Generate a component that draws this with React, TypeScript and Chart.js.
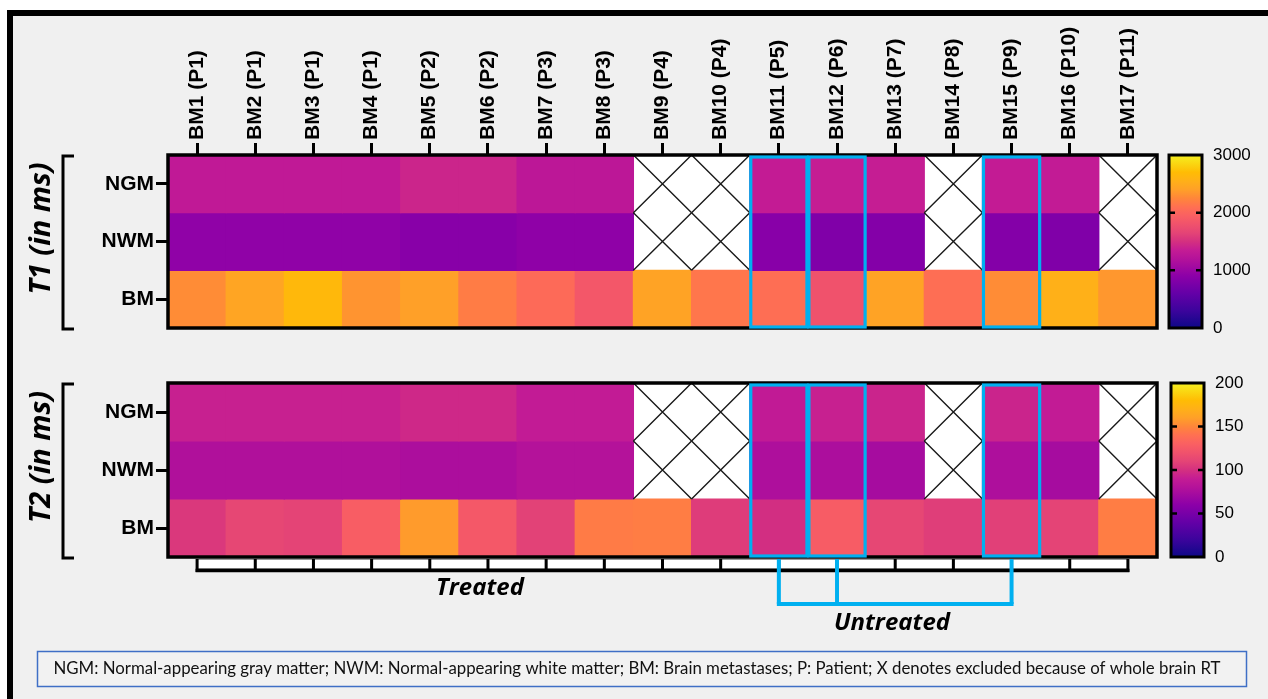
import React, { useEffect, useRef } from "react";
import { Chart, registerables } from "chart.js";

Chart.register(...registerables);

// ---------- data ----------
const COLUMNS = [
  "BM1 (P1)", "BM2 (P1)", "BM3 (P1)", "BM4 (P1)", "BM5 (P2)", "BM6 (P2)",
  "BM7 (P3)", "BM8 (P3)", "BM9 (P4)", "BM10 (P4)", "BM11 (P5)", "BM12 (P6)",
  "BM13 (P7)", "BM14 (P8)", "BM15 (P9)", "BM16 (P10)", "BM17 (P11)",
];
const ROWS = ["NGM", "NWM", "BM"];

const T1_NGM = [1310, 1310, 1310, 1310, 1420, 1420, 1275, 1275, null, null, 1340, 1360, 1360, null, 1340, 1330, null];
const T1_NWM = [930, 930, 930, 930, 870, 870, 920, 920, null, null, 870, 810, 840, null, 840, 810, null];
const T1_BM = [2285, 2445, 2650, 2330, 2400, 2180, 2045, 1850, 2430, 2140, 2080, 1800, 2430, 2080, 2285, 2550, 2350];

const T2_NGM = [92, 92, 92, 92, 96, 96, 89, 89, null, null, 88, 92, 94, null, 94, 89, null];
const T2_NWM = [78, 78, 78, 78, 76, 76, 80, 80, null, null, 77, 76, 73, null, 77, 73, null];
const T2_BM = [104, 112, 110, 128, 158, 124, 109, 145, 146, 106, 99, 127, 112, 107, 108, 110, 146];

const T1_TICKS = [0, 1000, 2000, 3000];
const T2_TICKS = [0, 50, 100, 150, 200];

const UNTREATED = ["BM11 (P5)", "BM12 (P6)", "BM15 (P9)"];

const CAPTION =
  "NGM: Normal-appearing gray matter; NWM: Normal-appearing white matter; BM: Brain metastases; P: Patient; X denotes excluded because of whole brain RT";

// ---------- style ----------
const W = 1268;
const H = 699;
const SANS = '"Liberation Sans", Arial, sans-serif';
const HUMAN = 'Lato, "Open Sans", "Liberation Sans", sans-serif';
const WIDE = '"Open Sans", Lato, "Liberation Sans", sans-serif';
const BLUE = "#00b0f0";

const CMAP: [number, number[]][] = [
  [0.0, [13, 8, 135]],
  [0.1, [60, 4, 156]],
  [0.2, [100, 0, 167]],
  [0.3, [140, 0, 168]],
  [0.4, [180, 18, 154]],
  [0.45, [196, 28, 148]],
  [0.5, [212, 48, 128]],
  [0.55, [228, 68, 118]],
  [0.6, [240, 82, 108]],
  [0.65, [250, 96, 98]],
  [0.7, [255, 112, 82]],
  [0.75, [255, 134, 58]],
  [0.8, [255, 160, 40]],
  [0.85, [255, 176, 24]],
  [0.9, [255, 188, 4]],
  [1.0, [245, 240, 32]],
];

function cmap(t: number): string {
  const x = Math.max(0, Math.min(1, t));
  for (let i = 1; i < CMAP.length; i++) {
    const [t1, c1] = CMAP[i];
    const [t0, c0] = CMAP[i - 1];
    if (x <= t1) {
      const f = (x - t0) / (t1 - t0);
      const c = c0.map((v, k) => Math.round(v + (c1[k] - v) * f));
      return `rgb(${c[0]},${c[1]},${c[2]})`;
    }
  }
  const c = CMAP[CMAP.length - 1][1];
  return `rgb(${c[0]},${c[1]},${c[2]})`;
}

interface Panel {
  rows: (number | null)[][];
  max: number;
  ticks: number[];
  top: number;
  bottom: number;
  showX: boolean;
  title: string;
  cbX0: number;
  cbX1: number;
  cbPad: number;
  background: boolean;
  below: boolean;
}

const LEFT = 168;
const RIGHT = 1157;

function drawBackground(ctx: CanvasRenderingContext2D) {
  ctx.save();
  ctx.fillStyle = "#ffffff";
  ctx.fillRect(0, 0, W, H);
  ctx.fillStyle = "#f0f0f0";
  ctx.fillRect(13, 16, W - 13, H - 16);
  ctx.fillStyle = "#000";
  ctx.fillRect(7, 10, 6, H - 10);
  ctx.fillRect(7, 10, W - 7, 6);

  // caption box
  ctx.fillStyle = "#f2f2f2";
  ctx.fillRect(37, 651, 1209, 35);
  ctx.strokeStyle = "#3f6fc6";
  ctx.lineWidth = 1.5;
  ctx.strokeRect(37.5, 651.5, 1209, 35);
  ctx.fillStyle = "#111";
  ctx.font = `17px ${HUMAN}`;
  const tw = ctx.measureText(CAPTION).width;
  ctx.translate(637, 669);
  ctx.scale(1167 / tw, 1);
  ctx.textAlign = "center";
  ctx.textBaseline = "middle";
  ctx.fillText(CAPTION, 0, 0);
  ctx.restore();
}

function makeChart(canvas: HTMLCanvasElement, p: Panel): Chart {
  const datasets = p.rows.map((vals, r) => {
    const base = 2 - r;
    return {
      label: ROWS[r],
      data: vals.map((v) => (v == null ? null : [base, base + 1])),
      backgroundColor: vals.map((v) => (v == null ? "rgba(0,0,0,0)" : cmap(v / p.max))),
      borderWidth: 0,
      barPercentage: 1,
      categoryPercentage: 1,
      grouped: false,
      inflateAmount: 0.6,
    };
  });

  const plugin = {
    id: "panelDecor",
    beforeDraw(chart: any) {
      if (p.background) drawBackground(chart.ctx);
    },
    beforeDatasetsDraw(chart: any) {
      const { ctx, chartArea: a } = chart;
      ctx.save();
      ctx.fillStyle = "#ffffff";
      ctx.fillRect(a.left, a.top, a.right - a.left, a.bottom - a.top);
      ctx.restore();
    },
    afterDraw(chart: any) {
      const { ctx, chartArea: a } = chart;
      const xs = chart.scales.x;
      const ys = chart.scales.y;
      const cb = chart.scales.cb;
      const cw = (a.right - a.left) / COLUMNS.length;
      ctx.save();

      // excluded cells: X marks
      ctx.strokeStyle = "#1a1a1a";
      ctx.lineWidth = 1.4;
      p.rows.forEach((vals, r) => {
        const base = 2 - r;
        vals.forEach((v, i) => {
          if (v != null) return;
          const cx = xs.getPixelForValue(i);
          const x0 = cx - cw / 2;
          const x1 = cx + cw / 2;
          const y0 = ys.getPixelForValue(base + 1);
          const y1 = ys.getPixelForValue(base);
          ctx.beginPath();
          ctx.moveTo(x0, y0);
          ctx.lineTo(x1, y1);
          ctx.moveTo(x1, y0);
          ctx.lineTo(x0, y1);
          ctx.stroke();
        });
      });

      // heatmap frame
      ctx.strokeStyle = "#000";
      ctx.lineWidth = 3.5;
      ctx.strokeRect(a.left, a.top, a.right - a.left, a.bottom - a.top);

      // untreated highlights
      ctx.strokeStyle = BLUE;
      ctx.lineWidth = 3.2;
      UNTREATED.forEach((lab) => {
        const i = COLUMNS.indexOf(lab);
        const cx = xs.getPixelForValue(i);
        ctx.strokeRect(cx - cw / 2 + 1, a.top + 2, cw - 2, a.bottom - a.top - 3);
      });

      // colour bar
      const grad = ctx.createLinearGradient(0, cb.bottom, 0, cb.top);
      CMAP.forEach(([t, c]) => grad.addColorStop(t, `rgb(${c[0]},${c[1]},${c[2]})`));
      ctx.fillStyle = grad;
      ctx.fillRect(p.cbX0, cb.top, p.cbX1 - p.cbX0, cb.bottom - cb.top);
      ctx.strokeStyle = "#000";
      ctx.lineWidth = 3;
      ctx.strokeRect(p.cbX0, cb.top, p.cbX1 - p.cbX0, cb.bottom - cb.top);
      ctx.lineWidth = 2.5;
      p.ticks.slice(1, -1).forEach((v) => {
        const y = cb.getPixelForValue(v);
        ctx.beginPath();
        ctx.moveTo(p.cbX0, y);
        ctx.lineTo(p.cbX0 + 6, y);
        ctx.moveTo(p.cbX1 - 6, y);
        ctx.lineTo(p.cbX1, y);
        ctx.stroke();
      });

      // left bracket and title
      ctx.lineWidth = 3;
      ctx.beginPath();
      ctx.moveTo(74, a.top + 1);
      ctx.lineTo(63, a.top + 1);
      ctx.lineTo(63, a.bottom + 1);
      ctx.lineTo(74, a.bottom + 1);
      ctx.stroke();
      ctx.save();
      ctx.translate(42, (a.top + a.bottom) / 2 - 13);
      ctx.rotate(-Math.PI / 2);
      ctx.fillStyle = "#000";
      ctx.font = `italic bold 29px ${WIDE}`;
      ctx.textAlign = "center";
      ctx.textBaseline = "middle";
      ctx.fillText(p.title, 0, 0);
      ctx.restore();

      if (p.below) {
        const centers = COLUMNS.map((_, i) => xs.getPixelForValue(i));
        const yT = a.bottom + 2;
        const yB = a.bottom + 15;
        // comb
        ctx.fillStyle = "#ffffff";
        ctx.strokeStyle = "#9a9a9a";
        ctx.lineWidth = 1;
        for (let i = 0; i < centers.length - 1; i++) {
          ctx.fillRect(centers[i], yT, centers[i + 1] - centers[i], yB - yT - 3);
          ctx.strokeRect(centers[i] + 0.5, yT + 0.5, centers[i + 1] - centers[i] - 1, yB - yT - 4);
        }
        ctx.strokeStyle = "#000";
        ctx.lineWidth = 3;
        centers.forEach((c) => {
          ctx.beginPath();
          ctx.moveTo(c, yT);
          ctx.lineTo(c, yB);
          ctx.stroke();
        });
        ctx.lineWidth = 3.5;
        ctx.beginPath();
        ctx.moveTo(centers[0] - 1.5, yB - 1.5);
        ctx.lineTo(centers[centers.length - 1] + 1.5, yB - 1.5);
        ctx.stroke();

        // untreated bracket
        const ux = UNTREATED.map((lab) => xs.getPixelForValue(COLUMNS.indexOf(lab)));
        const yL = 604;
        ctx.strokeStyle = BLUE;
        ctx.lineWidth = 4;
        ux.forEach((x) => {
          ctx.beginPath();
          ctx.moveTo(x, yT);
          ctx.lineTo(x, yL);
          ctx.stroke();
        });
        ctx.beginPath();
        ctx.moveTo(ux[0] - 2, yL);
        ctx.lineTo(ux[ux.length - 1] + 2, yL);
        ctx.stroke();

        ctx.fillStyle = "#000";
        ctx.font = `italic bold 24px ${WIDE}`;
        ctx.textAlign = "center";
        ctx.textBaseline = "middle";
        ctx.fillText("Treated", 480, 588);
        ctx.fillText("Untreated", 892, 623);
      }
      ctx.restore();
    },
  };

  const tickGrid = {
    display: true,
    drawOnChartArea: false,
    drawTicks: true,
    tickLength: 12,
    tickWidth: 3,
    tickColor: "#000",
    offset: false,
  };

  return new Chart(canvas, {
    type: "bar",
    data: { labels: COLUMNS, datasets: datasets as any },
    plugins: [plugin as any],
    options: {
      responsive: false,
      animation: false,
      events: [],
      layout: { padding: { top: p.showX ? 0 : p.top, bottom: H - p.bottom, left: 0, right: 0 } },
      plugins: { legend: { display: false }, tooltip: { enabled: false } },
      scales: {
        x: {
          type: "category",
          position: "top",
          display: p.showX,
          offset: true,
          grid: tickGrid,
          border: { display: false },
          ticks: {
            autoSkip: false,
            minRotation: 90,
            maxRotation: 90,
            padding: 3,
            labelOffset: 25,
            color: "#000",
            font: { family: SANS, size: 21, weight: "bold" },
          },
          afterFit: (s: any) => {
            if (p.showX) s.height = p.top;
          },
        },
        y: {
          type: "linear",
          position: "left",
          min: 0,
          max: 3,
          afterBuildTicks: (s: any) => {
            s.ticks = [0.5, 1.5, 2.5].map((value) => ({ value }));
          },
          grid: tickGrid,
          border: { display: false },
          ticks: {
            padding: 2,
            color: "#000",
            font: { family: SANS, size: 21, weight: "bold" },
            callback: (v: any) => ROWS[2 - Math.floor(Number(v))],
          },
          afterFit: (s: any) => {
            s.width = LEFT;
          },
        },
        cb: {
          type: "linear",
          position: "right",
          min: 0,
          max: p.max,
          afterBuildTicks: (s: any) => {
            s.ticks = p.ticks.map((value) => ({ value }));
          },
          grid: { display: false, drawTicks: false },
          border: { display: false },
          ticks: {
            padding: p.cbPad,
            color: "#000",
            font: { family: SANS, size: 17 },
            callback: (v: any) => String(v),
          },
          afterFit: (s: any) => {
            s.width = W - RIGHT;
          },
        },
      },
    } as any,
  });
}

const PANEL_T1: Panel = {
  rows: [T1_NGM, T1_NWM, T1_BM],
  max: 3000,
  ticks: T1_TICKS,
  top: 155,
  bottom: 328,
  showX: true,
  title: "T1 (in ms)",
  cbX0: 1169,
  cbX1: 1202,
  cbPad: 56,
  background: true,
  below: false,
};

const PANEL_T2: Panel = {
  rows: [T2_NGM, T2_NWM, T2_BM],
  max: 200,
  ticks: T2_TICKS,
  top: 383,
  bottom: 557,
  showX: false,
  title: "T2 (in ms)",
  cbX0: 1171,
  cbX1: 1204,
  cbPad: 58,
  background: false,
  below: true,
};

export default function App() {
  const ref1 = useRef<HTMLCanvasElement>(null);
  const ref2 = useRef<HTMLCanvasElement>(null);
  useEffect(() => {
    const c1 = makeChart(ref1.current as HTMLCanvasElement, PANEL_T1);
    const c2 = makeChart(ref2.current as HTMLCanvasElement, PANEL_T2);
    return () => {
      c1.destroy();
      c2.destroy();
    };
  }, []);
  const cs: React.CSSProperties = { position: "absolute", left: 0, top: 0, width: W, height: H };
  return (
    <div style={{ position: "fixed", left: 0, top: 0, width: W, height: H, overflow: "hidden", background: "#fff" }}>
      <canvas ref={ref1} width={W} height={H} style={cs} />
      <canvas ref={ref2} width={W} height={H} style={cs} />
    </div>
  );
}
